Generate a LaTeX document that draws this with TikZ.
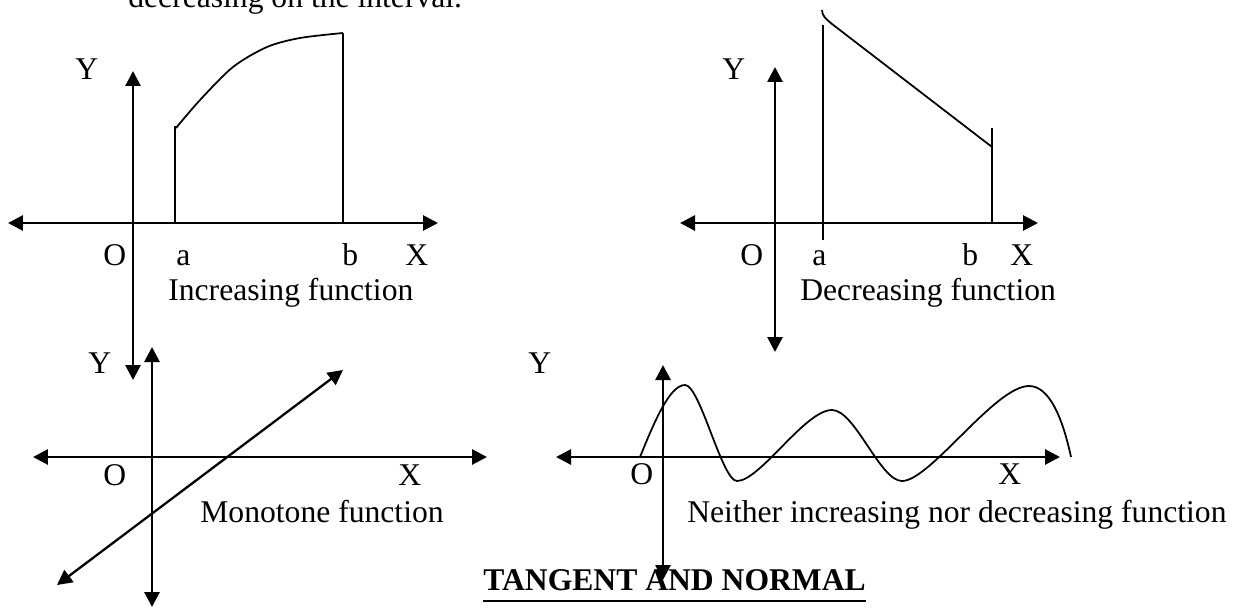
\documentclass[tikz,border=0pt]{standalone}
\usepackage{fontspec}
\setmainfont{Liberation Serif}
\usetikzlibrary{arrows.meta}
\begin{document}
\begin{tikzpicture}[x=0.02cm,y=-0.02cm,>={Triangle[length=0.3cm,width=0.3cm]},
    axis/.style={line width=1.6pt,<->},
    curve/.style={line width=1pt},
    lbl/.style={anchor=base west,inner sep=0pt,font=\fontsize{18}{21}\selectfont}]
  \useasboundingbox (0,0) rectangle (1236,608);
  \node (top) [lbl] at (128,8) {decreasing on the interval.};
  % increasing
  \draw[axis] (133,71) -- (133,380);
  \draw[axis] (8,223) -- (438,223);
  \draw[curve] (175,223) -- (175,126);
  \draw[curve] (343,223) -- (343,33);
  \draw[curve] plot[smooth] coordinates {(176,128) (200,100) (233,67) (267,47) (300,38) (343,33)};
  \node (y1) [lbl] at (75,80) {Y};
  \node (o1) [lbl] at (103,265) {O};
  \node (a1) [lbl] at (176,265) {a};
  \node (b1) [lbl] at (342,265) {b};
  \node (x1) [lbl] at (405,265) {X};
  \node (t1) [lbl] at (168,300) {Increasing function};
  % decreasing
  \draw[axis] (775,67) -- (775,352);
  \draw[axis] (680,223) -- (1038,223);
  \draw[curve] (823,25) -- (823,240);
  \draw[curve] (992,128) -- (992,223);
  \draw[curve] (822,10) .. controls (822,16) and (826,19) .. (832,24) -- (992,147);
  \node (y2) [lbl] at (722,80) {Y};
  \node (o2) [lbl] at (740,265) {O};
  \node (a2) [lbl] at (812,265) {a};
  \node (b2) [lbl] at (962,265) {b};
  \node (x2) [lbl] at (1010,265) {X};
  \node (t2) [lbl] at (800,300) {Decreasing function};
  % monotone
  \draw[axis] (152,347) -- (152,607);
  \draw[axis] (33,457) -- (487,457);
  \draw[line width=1.3pt,<->] (57,585) -- (343,370);
  \node (y3) [lbl] at (88,373) {Y};
  \node (o3) [lbl] at (103,485) {O};
  \node (x3) [lbl] at (398,485) {X};
  \node (t3) [lbl] at (200,522) {Monotone function};
  % neither
  \draw[axis] (663,365) -- (663,580);
  \draw[axis] (556,457) -- (1060,457);
  \draw[curve] (640,457) .. controls (655,420) and (670,385) .. (685,385)
    .. controls (700,385) and (722,481) .. (737,481)
    .. controls (760,481) and (805,410) .. (832,410)
    .. controls (855,410) and (880,481) .. (902,481)
    .. controls (930,481) and (995,386) .. (1029,386)
    .. controls (1050,386) and (1063,420) .. (1071,457);
  \node (y4) [lbl] at (528,373) {Y};
  \node (o4) [lbl] at (630,484) {O};
  \node (x4) [lbl] at (998,484) {X};
  \node (t4) [lbl] at (687,522) {Neither increasing nor decreasing function};
  \node (title) [lbl,font=\fontsize{18}{21}\selectfont\bfseries] at (483,590) {TANGENT AND NORMAL};
  \draw[line width=1.6pt] ([yshift=-0.22cm]title.base west) -- ([yshift=-0.22cm]title.base east);
\end{tikzpicture}
\end{document}
